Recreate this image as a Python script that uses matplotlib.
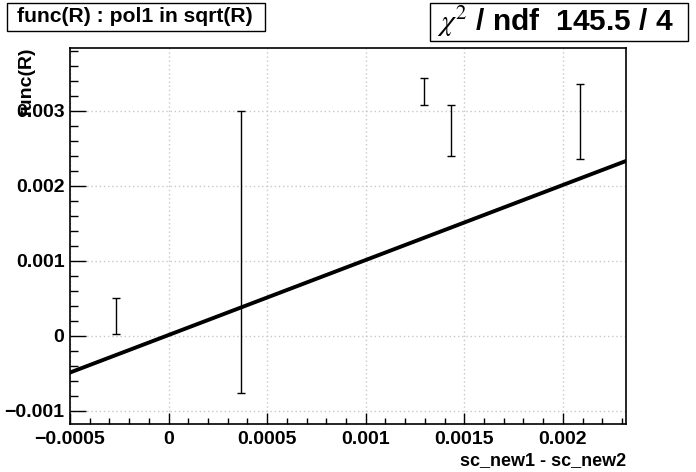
import numpy as np
import matplotlib.pyplot as plt
from matplotlib.patches import Rectangle
from matplotlib.ticker import MultipleLocator

plt.rcParams["font.family"] = ["Liberation Sans", "DejaVu Sans"]
plt.rcParams["mathtext.fontset"] = "stix"

# measured points (sc_new1 - sc_new2 vs func(R))
x_pts = [-0.000267, 0.000366, 0.001294, 0.001432, 0.002088]
y_pts = [0.000262, 0.001118, 0.003256, 0.002736, 0.002858]
y_err = [0.000235, 0.001882, 0.000180, 0.000340, 0.000498]

# pol1 fit parameters
fit_p0 = 0.00001
fit_p1 = 1.0

title_text = "func(R) : pol1 in sqrt(R)"
stat_text = r"$\chi^{2}$ / ndf  145.5 / 4"

W, H = 696, 472
fig = plt.figure(figsize=(W / 100, H / 100), dpi=100)
ax = fig.add_axes([70 / W, 1 - 424.3 / H, 556 / W, 376.6 / H])

xlim = (-0.0005, 0.00232)
ylim = (-0.00118, 0.00384)

ax.errorbar(x_pts, y_pts, yerr=y_err, fmt="none", ecolor="black",
            elinewidth=1.0, capsize=2.6, capthick=1.0, zorder=3)

xf = np.linspace(xlim[0], xlim[1], 200)
ax.plot(xf, fit_p0 + fit_p1 * xf, color="black", lw=2.8, zorder=4)

ax.set_xlim(xlim)
ax.set_ylim(ylim)

ax.xaxis.set_major_locator(MultipleLocator(0.0005))
ax.xaxis.set_minor_locator(MultipleLocator(0.0001))
ax.yaxis.set_major_locator(MultipleLocator(0.001))
ax.yaxis.set_minor_locator(MultipleLocator(0.0002))

ax.set_xticks([-0.0005, 0, 0.0005, 0.001, 0.0015, 0.002])
ax.set_xticklabels(["\u22120.0005", "0", "0.0005", "0.001", "0.0015", "0.002"])
ax.set_yticks([-0.001, 0, 0.001, 0.002, 0.003])
ax.set_yticklabels(["\u22120.001", "0", "0.001", "0.002", "0.003"])

ax.tick_params(axis="x", which="major", direction="in", length=8, width=1,
               labelsize=14, pad=5, top=False)
ax.tick_params(axis="x", which="minor", direction="in", length=4.3, width=1, top=False)
ax.tick_params(axis="y", which="major", direction="in", length=11.5, width=1,
               labelsize=14, pad=4, right=False)
ax.tick_params(axis="y", which="minor", direction="in", length=5.8, width=1, right=False)
for lab in ax.get_xticklabels() + ax.get_yticklabels():
    lab.set_fontweight("bold")

ax.grid(True, which="major", color="#c8c8c8", linestyle=(0, (1, 2)), linewidth=1)
ax.set_axisbelow(True)
for s in ax.spines.values():
    s.set_linewidth(1.2)

ax.set_xlabel("sc_new1 - sc_new2", fontsize=13, fontweight="bold")
ax.xaxis.set_label_coords(1.0, -0.075)
ax.xaxis.label.set_horizontalalignment("right")

ax.set_ylabel("func(R)", fontsize=14, fontweight="bold")
ax.yaxis.set_label_coords(-0.062, 1.0)
ax.yaxis.label.set_verticalalignment("bottom")
ax.yaxis.label.set_horizontalalignment("right")

# title box
fig.patches.append(Rectangle((7.3 / W, 1 - 30.7 / H), 257.7 / W, 28 / H,
                             transform=fig.transFigure, facecolor="white",
                             edgecolor="black", lw=1.0))
fig.text(135 / W, 1 - 17 / H, title_text, ha="center", va="center",
         fontsize=15.2, fontweight="bold")

# stats box
fig.patches.append(Rectangle((430 / W, 1 - 40.5 / H), 258 / W, 37.5 / H,
                             transform=fig.transFigure, facecolor="white",
                             edgecolor="black", lw=1.0))
fig.text(555 / W, 1 - 22 / H, stat_text, ha="center", va="center",
         fontsize=21.5, fontweight="bold")

fig.savefig("out.png", dpi=100)
